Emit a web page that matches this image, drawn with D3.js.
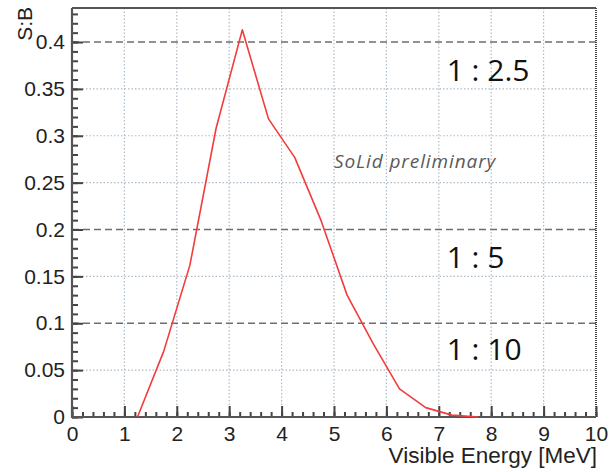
<!DOCTYPE html>
<html>
<head>
<meta charset="utf-8">
<script src="https://cdn.jsdelivr.net/npm/d3@7"></script>
<style>
  body { margin: 0; background: #fff; }
  svg { display: block; }
</style>
</head>
<body>
<svg id="chart"></svg>
<script>
// data (bin centres of 0.5 MeV bins)
const energy = [1.25, 1.75, 2.25, 2.75, 3.25, 3.75, 4.25, 4.75, 5.25, 5.75, 6.25, 6.75, 7.25, 7.75];
const sbRatio = [0, 0.07, 0.162, 0.308, 0.413, 0.318, 0.277, 0.21, 0.13, 0.078, 0.03, 0.01, 0.002, 0];

const xTicks = [0, 1, 2, 3, 4, 5, 6, 7, 8, 9, 10];
const yTicks = [0, 0.05, 0.1, 0.15, 0.2, 0.25, 0.3, 0.35, 0.4];
const dashedLevels = [0.1, 0.2, 0.4];
const ratioLabels = ["1 : 2.5", "1 : 5", "1 : 10"];
const ratioLabelY = [0.3585, 0.1585, 0.0605];

// frame of the plot
const margin = {top: 8, right: 13, bottom: 55, left: 72},
    width = 609 - margin.left - margin.right,
    height = 472 - margin.top - margin.bottom;

const svg = d3.select('#chart')
    .attr("width", 609)
    .attr("height", 472)
    .append("g")
    .attr("transform", "translate(" + margin.left + "," + margin.top + ")");

const x = d3.scaleLinear().domain([0, 10]).range([0, width]);
const y = d3.scaleLinear().domain([0, 0.4363]).range([height, 0]);

// dotted grid
svg.append("g")
    .selectAll("line")
    .data(xTicks.slice(1, -1))
    .enter()
    .append("line")
    .attr("x1", d => x(d)).attr("x2", d => x(d))
    .attr("y1", 0).attr("y2", height)
    .attr("stroke", "#aebbc8")
    .attr("stroke-width", 1.2)
    .attr("stroke-dasharray", "1.5,2");

svg.append("g")
    .selectAll("line")
    .data(yTicks.slice(1).filter(d => dashedLevels.indexOf(d) < 0))
    .enter()
    .append("line")
    .attr("x1", 0).attr("x2", width)
    .attr("y1", d => y(d)).attr("y2", d => y(d))
    .attr("stroke", "#aebbc8")
    .attr("stroke-width", 1.2)
    .attr("stroke-dasharray", "1.5,2");

// dashed S:B reference levels
svg.append("g")
    .selectAll("line")
    .data(dashedLevels)
    .enter()
    .append("line")
    .attr("x1", 0).attr("x2", width)
    .attr("y1", d => y(d)).attr("y2", d => y(d))
    .attr("stroke", "#6e6e6e")
    .attr("stroke-width", 1.6)
    .attr("stroke-dasharray", "7,4");

// top and right edges of the frame
svg.append("line")
    .attr("x1", 0).attr("x2", width)
    .attr("y1", 0).attr("y2", 0)
    .attr("stroke", "#555").attr("stroke-width", 2);
svg.append("line")
    .attr("x1", width).attr("x2", width)
    .attr("y1", 0).attr("y2", height)
    .attr("stroke", "#444").attr("stroke-width", 2)
    .attr("stroke-dasharray", "1,1");

// axes, ticks point into the frame
const xAxis = svg.append("g")
    .attr("transform", "translate(0," + height + ")")
    .call(d3.axisBottom(x).tickValues(d3.range(0, 10.01, 0.2)).tickSize(-5).tickFormat(""));
xAxis.selectAll(".tick line").attr("stroke", "#444").attr("stroke-width", 2);
xAxis.select(".domain").remove();

const xMajor = svg.append("g")
    .attr("transform", "translate(0," + height + ")")
    .call(d3.axisBottom(x).tickValues(xTicks).tickSize(-11).tickPadding(4));
xMajor.select(".domain").remove();
xMajor.selectAll(".tick line").attr("stroke", "#444").attr("stroke-width", 2);
xMajor.selectAll("text")
    .attr("y", 9)
    .attr("dy", "0.71em")
    .style("font-family", "'Liberation Sans', Arial, sans-serif")
    .style("font-size", "21px")
    .attr("fill", "#222");

const yMinor = svg.append("g")
    .call(d3.axisLeft(y).tickValues(d3.range(0, 0.4301, 0.01)).tickSize(-6).tickFormat(""));
yMinor.select(".domain").remove();
yMinor.selectAll(".tick line").attr("stroke", "#444").attr("stroke-width", 2);

const yMajor = svg.append("g")
    .call(d3.axisLeft(y).tickValues(yTicks).tickSize(-11).tickPadding(7).tickFormat(d3.format("~g")));
yMajor.select(".domain").remove();
yMajor.selectAll(".tick line").attr("stroke", "#444").attr("stroke-width", 2);
yMajor.selectAll("text")
    .style("font-family", "'Liberation Sans', Arial, sans-serif")
    .style("font-size", "21px")
    .attr("fill", "#222");

svg.append("line")
    .attr("x1", 0).attr("x2", 0).attr("y1", 0).attr("y2", height + 1)
    .attr("stroke", "#555").attr("stroke-width", 2.2);
svg.append("line")
    .attr("x1", -1).attr("x2", width).attr("y1", height).attr("y2", height)
    .attr("stroke", "#555").attr("stroke-width", 2.2);

// the S:B curve
svg.append("path")
    .datum(energy.map((e, i) => [e, sbRatio[i]]))
    .attr("fill", "none")
    .attr("stroke", "#f43b3b")
    .attr("stroke-width", 1.6)
    .attr("stroke-linejoin", "round")
    .attr("d", d3.line().x(d => x(d[0])).y(d => y(d[1])));

// ratio labels
svg.selectAll("text.ratio")
    .data(ratioLabels)
    .enter()
    .append("text")
    .attr("class", "ratio")
    .attr("x", x(7.15))
    .attr("y", (d, i) => y(ratioLabelY[i]))
    .style("font-family", "'Open Sans', sans-serif")
    .style("font-size", "30px")
    .attr("fill", "#111")
    .text(d => d);

svg.append("text")
    .attr("x", x(5.0))
    .attr("y", y(0.2655))
    .style("font-family", "'Open Sans', sans-serif")
    .style("font-style", "italic")
    .style("font-size", "19px")
    .style("letter-spacing", "0.9px")
    .attr("fill", "#5a5a5a")
    .text("SoLid preliminary");

// axis titles
svg.append("text")
    .attr("text-anchor", "end")
    .attr("x", width + 1)
    .attr("y", height + 46)
    .style("font-family", "'Liberation Sans', Arial, sans-serif")
    .style("font-size", "22.5px")
    .attr("fill", "#222")
    .text("Visible Energy [MeV]");

svg.append("text")
    .attr("text-anchor", "end")
    .attr("transform", "translate(-40,-1) rotate(-90)")
    .style("font-family", "'Liberation Sans', Arial, sans-serif")
    .style("font-size", "21px")
    .attr("fill", "#222")
    .text("S:B");
</script>
</body>
</html>
